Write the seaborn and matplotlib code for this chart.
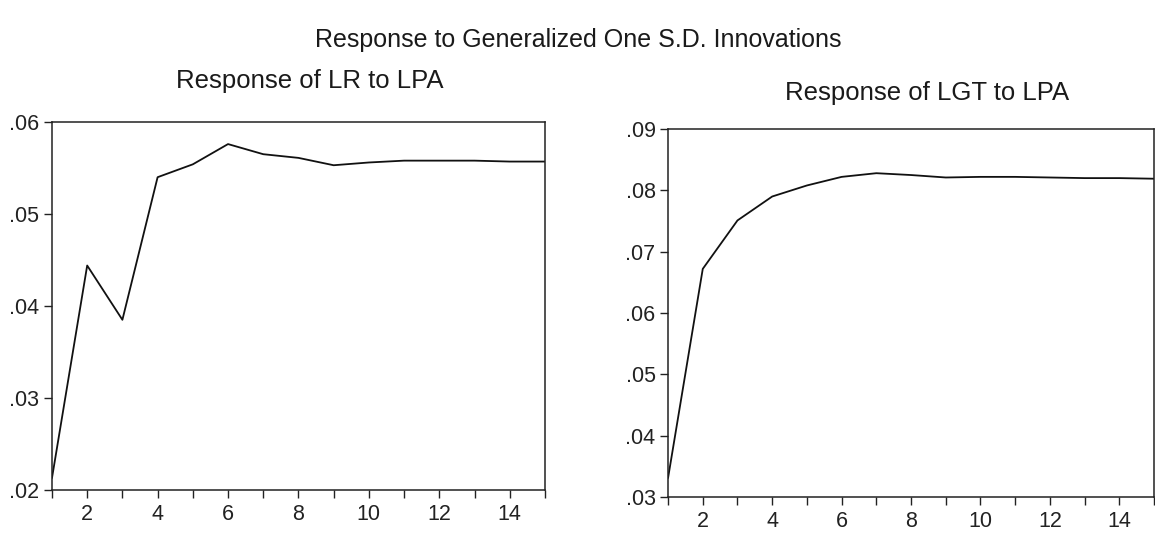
import numpy as np
import pandas as pd
import matplotlib
matplotlib.use("Agg")
import matplotlib.pyplot as plt
from matplotlib.ticker import FuncFormatter, MultipleLocator
import seaborn as sns

periods = list(range(1, 16))
lr_to_lpa = [0.0213, 0.0444, 0.0385, 0.0540, 0.0554, 0.0576, 0.0565, 0.0561,
             0.0553, 0.0556, 0.0558, 0.0558, 0.0558, 0.0557, 0.0557]
lgt_to_lpa = [0.0331, 0.0672, 0.0751, 0.0790, 0.0808, 0.0822, 0.0828, 0.0825,
              0.0821, 0.0822, 0.0822, 0.0821, 0.0820, 0.0820, 0.0819]

main_title = "Response to Generalized One S.D. Innovations"
panel_titles = ["Response of LR to LPA", "Response of LGT to LPA"]
y_ranges = [(0.02, 0.06), (0.03, 0.09)]

sns.set_theme(style="ticks")
plt.rcParams['font.family'] = ['Liberation Sans', 'DejaVu Sans']

fig = plt.figure(figsize=(11.55, 5.33), dpi=100)
ax1 = fig.add_axes([0.045, 0.0807, 0.4268, 0.6904])
ax2 = fig.add_axes([0.5784, 0.0675, 0.4208, 0.6904])

fmt = FuncFormatter(lambda v, p: f"{v:.2f}".replace("0.", ".", 1))

for ax, vals, title, yr in zip([ax1, ax2], [lr_to_lpa, lgt_to_lpa], panel_titles, y_ranges):
    df = pd.DataFrame({"period": periods, "value": vals})
    sns.lineplot(data=df, x="period", y="value", ax=ax, color="#111111", linewidth=1.3)
    ax.set_xlim(1, 15)
    ax.set_ylim(*yr)
    ax.xaxis.set_major_locator(MultipleLocator(2))
    ax.xaxis.set_minor_locator(MultipleLocator(1))
    ax.yaxis.set_major_locator(MultipleLocator(0.01))
    ax.yaxis.set_major_formatter(fmt)
    ax.set_xlabel("")
    ax.set_ylabel("")
    ax.tick_params(axis="both", which="major", direction="out", length=6, width=1.0,
                   labelsize=15.5, colors="#222222")
    ax.tick_params(axis="x", which="both", pad=4)
    ax.tick_params(axis="y", which="major", pad=3)
    ax.tick_params(axis="x", which="minor", direction="out", length=6, width=1.0, colors="#222222")
    ax.tick_params(top=False, right=False)
    for s in ax.spines.values():
        s.set_visible(True)
        s.set_color("#222222")
        s.set_linewidth(1.1)

fig.text(0.501, 0.925, main_title, ha="center", va="center", fontsize=18, color="#1a1a1a")
fig.text(0.268, 0.848, panel_titles[0], ha="center", va="center", fontsize=18.5, color="#1a1a1a")
fig.text(0.803, 0.826, panel_titles[1], ha="center", va="center", fontsize=18.5, color="#1a1a1a")

fig.savefig("out.png", dpi=100, facecolor="white")
